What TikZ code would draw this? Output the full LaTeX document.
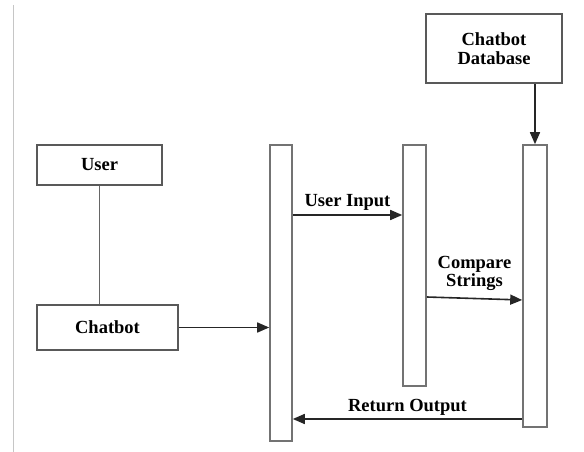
\documentclass[tikz,border=0pt]{standalone}
\usepackage{fontspec}
\setmainfont{Liberation Serif}
\usetikzlibrary{positioning,arrows.meta}
\newcommand{\diafont}{\fontsize{18.5}{18.5}\selectfont\bfseries}
\tikzset{
  actor/.style ={draw=black!65, line width=1.6pt, rectangle, align=center, font=\diafont, inner sep=2pt},
  bar/.style   ={draw=black!55, line width=1.6pt, rectangle, minimum width=22pt, inner sep=0pt},
  lbl/.style   ={font=\diafont, align=center, inner sep=1pt},
  arr/.style   ={-{Triangle[length=12pt,width=10pt]}, line width=1.6pt, draw=black!85},
  link/.style  ={draw=black!60, line width=1.6pt},
}
\begin{document}
\begin{tikzpicture}[x=1pt, y=-1pt]
  \useasboundingbox (0,0) rectangle (584,452);
  \draw[gray!45, line width=1pt] (13,5) -- (13,452);

  \node[actor, minimum width=125pt, minimum height=40pt] (user) at (99.5,165)  {User};
  \node[actor, minimum width=141pt, minimum height=45pt] (bot)  at (107.5,327.5) {Chatbot};
  \node[actor, minimum width=136pt, minimum height=69pt] (db)   at (494,48.5)  {Chatbot\\Database};

  \node[bar, minimum height=296pt] (barA) at (281,293) {};
  \node[bar, minimum width=23pt, minimum height=241pt] (barB) at (414.5,265.5) {};
  \node[bar, minimum width=24pt, minimum height=282pt] (barC) at (535,286) {};

  \coordinate (inY)  at (0,215);
  \coordinate (cmpA) at (0,297);
  \coordinate (cmpB) at (0,300);
  \coordinate (outY) at (0,419);

  \draw[link] (user.south) -- (user.south |- bot.north);
  \draw[arr] (db.south -| barC.north) -- (barC.north);
  \draw[arr] (bot.east) -- (bot.east -| barA.west);
  \draw[arr] (barA.east |- inY) -- node[lbl, above=3pt] {User Input} (barB.west |- inY);
  \draw[arr] (barB.east |- cmpA) -- node[lbl, above=6pt] {Compare\\Strings} (barC.west |- cmpB);
  \draw[arr] (barC.west |- outY) -- node[lbl, above=2pt] {Return Output} (barA.east |- outY);
\end{tikzpicture}
\end{document}
